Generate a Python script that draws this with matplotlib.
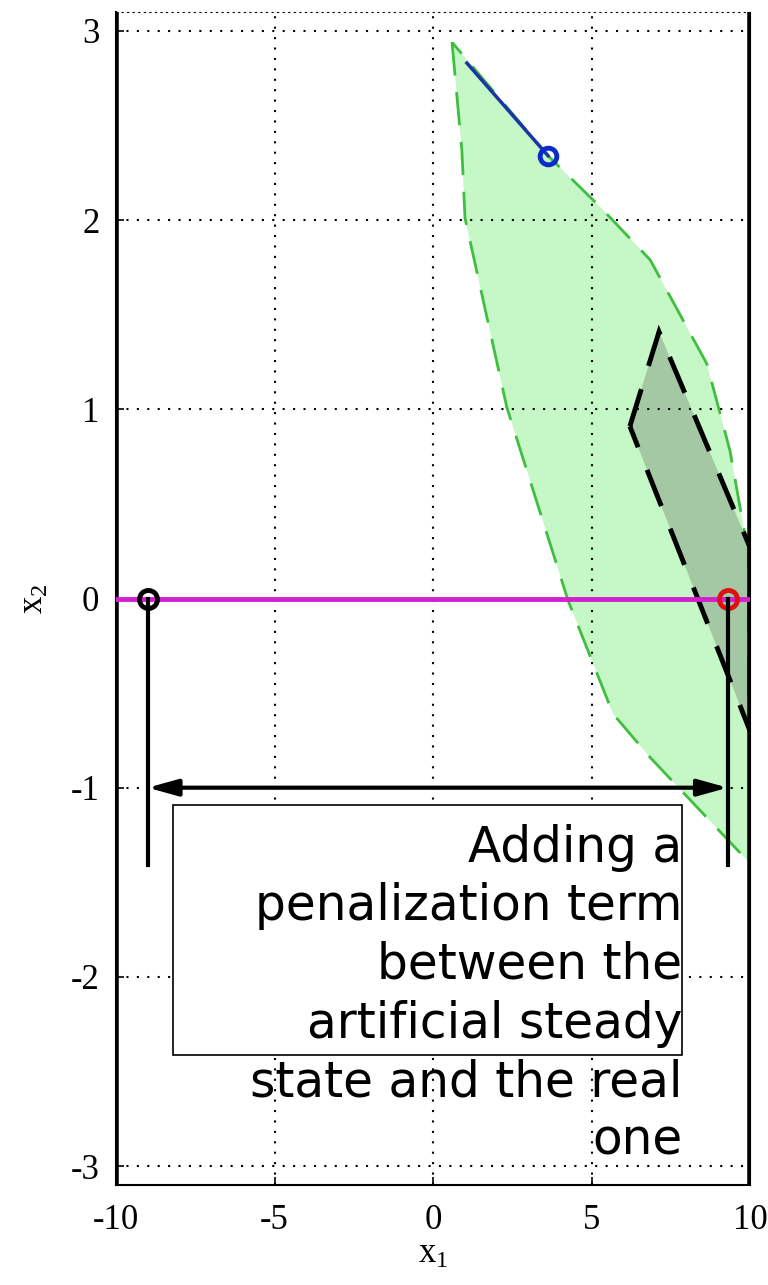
import numpy as np
import matplotlib
matplotlib.use("Agg")
import matplotlib.pyplot as plt
from matplotlib.patches import Polygon, Rectangle

# feasible set (light green) outline
green_x = [0.60, 0.91, 1.01, 2.33, 4.26, 5.68, 6.85, 10.0,
           10.0, 9.91, 9.37, 8.64, 6.85, 5.27, 3.63]
green_y = [2.94, 2.37, 2.01, 1.01, -0.01, -0.61, -0.84, -1.40,
           0.20, 0.27, 0.78, 1.24, 1.79, 2.07, 2.34]

# invariant set (dark) outline
dark_x = [6.21, 7.13, 10.0, 10.0]
dark_y = [0.91, 1.41, 0.27, -0.70]

# trajectory and points
traj_x = [1.07, 3.63]
traj_y = [2.83, 2.34]
x_init = (3.63, 2.34)
x_art = (9.3, 0.0)
x_ref = (-9.0, 0.0)
arrow_y = -1.0
drop_bottom = -1.41

# text box
box_x = [-8.20, 7.86]
box_y = [-2.414, -1.094]
note = "Adding a\npenalization term\nbetween the\nartificial steady\nstate and the real\none"

plt.rcParams['mathtext.fontset'] = 'custom'
plt.rcParams['mathtext.rm'] = 'Liberation Serif'
plt.rcParams['mathtext.default'] = 'regular'
plt.rcParams['axes.unicode_minus'] = False

fig = plt.figure(figsize=(7.68, 12.85), dpi=100)
ax = fig.add_axes([116/768, 100/1285, 634/768, 1173/1285])

ax.add_patch(Polygon(list(zip(green_x, green_y)), closed=True,
                     facecolor='#c6f7c6', edgecolor='#3fbf3f', lw=2,
                     ls=(0, (12, 6)), zorder=1))
ax.add_patch(Polygon(list(zip(dark_x, dark_y)), closed=True,
                     facecolor='#a3c8a3', edgecolor='black', lw=3.5,
                     ls=(0, (8, 5)), zorder=1.2))

# constraint lines
ax.axvline(-10, color='black', lw=4, zorder=3)
ax.axvline(10, color='black', lw=4, zorder=3)

ax.plot([-10, 10], [0, 0], color='#d21fd2', lw=3.5, zorder=3)
ax.plot(traj_x, traj_y, color='#1a35a8', lw=2.5, zorder=3)
ax.plot(*x_init, 'o', mfc='none', mec='#0a2acc', ms=12, mew=3.5, zorder=4)
ax.plot(*x_art, 'o', mfc='none', mec='#e01010', ms=13, mew=3.5, zorder=4)
ax.plot(*x_ref, 'o', mfc='none', mec='black', ms=13, mew=3.5, zorder=4)

ax.plot([x_ref[0], x_ref[0]], [0, drop_bottom], color='black', lw=3, zorder=4)
ax.plot([x_art[0], x_art[0]], [0, drop_bottom], color='black', lw=3, zorder=4)
ax.annotate('', xy=(x_art[0], arrow_y), xytext=(x_ref[0], arrow_y),
            arrowprops=dict(arrowstyle='<|-|>,head_length=1.8,head_width=0.5',
                            color='black', lw=3, shrinkA=0, shrinkB=0),
            zorder=5)

ax.add_patch(Rectangle((box_x[0], box_y[0]), box_x[1] - box_x[0],
                       box_y[1] - box_y[0], facecolor='white',
                       edgecolor='black', lw=1.2, zorder=5))
ax.text(box_x[1], -1.19, note, ha='right', va='top', fontsize=35,
        family='DejaVu Sans', linespacing=1.28, zorder=6)

ax.set_xlim(-10, 10)
ax.set_ylim(-3.1, 3.1)
ax.set_xticks([-10, -5, 0, 5, 10])
ax.set_yticks([-3, -2, -1, 0, 1, 2, 3])
ax.grid(True, color='black', ls=(0, (1, 4)), lw=1.5)
ax.set_axisbelow(False)
ax.tick_params(direction='in', length=6, width=1.2, labelsize=25,
               top=False, right=False)
ax.tick_params(axis='x', pad=14)
ax.tick_params(axis='y', pad=12)
for lab in ax.get_xticklabels() + ax.get_yticklabels():
    lab.set_family('Liberation Serif')
ax.spines['top'].set_linestyle((0, (1, 4)))
ax.spines['left'].set_linewidth(1.5)
ax.spines['bottom'].set_linewidth(1.5)
ax.set_xlabel('x$_1$', fontsize=25, family='Liberation Serif', labelpad=0)
ax.set_ylabel('x$_2$', fontsize=25, family='Liberation Serif', labelpad=14)

fig.savefig('out.png', dpi=100)
